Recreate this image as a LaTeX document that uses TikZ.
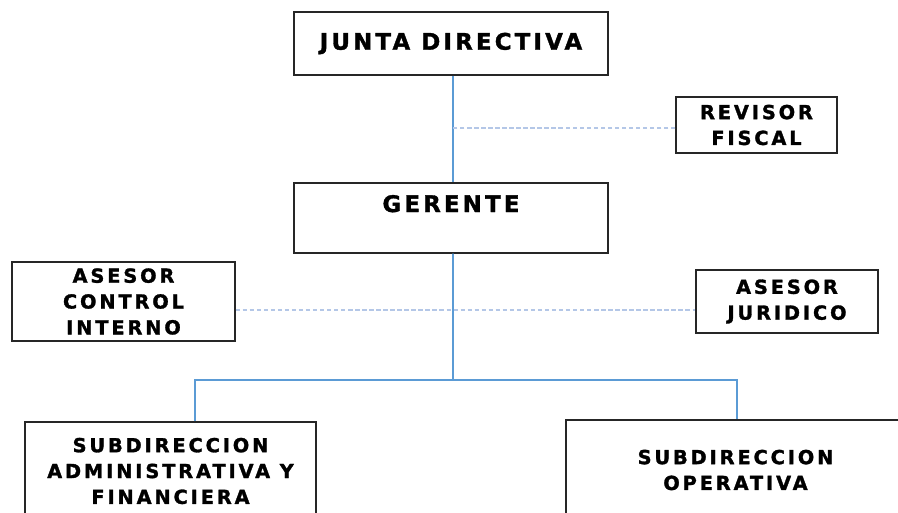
\documentclass[tikz,border=0pt]{standalone}
\usepackage{fontspec}
\setmainfont{DejaVu Sans}
\usetikzlibrary{positioning}
\definecolor{linea}{RGB}{91,155,213}
\definecolor{punteada}{RGB}{180,199,231}

\begin{document}
\begin{tikzpicture}[x=0.02cm, y=-0.02cm,
    cargo/.style={rectangle, draw=black!85, line width=0.8pt, fill=white,
                  align=center, inner sep=0pt,
                  font=\fontsize{11}{14.7}\selectfont\bfseries\addfontfeatures{LetterSpace=15,FakeBold=1.5}},
    directivo/.style={cargo,
                  font=\fontsize{13}{16}\selectfont\bfseries\addfontfeatures{LetterSpace=14,FakeBold=1.5}},
    enlace/.style={draw=linea, line width=0.9pt},
    asesoria/.style={draw=punteada, line width=0.9pt, dash pattern=on 2.5pt off 1.5pt}
]
    \clip (0,0) rectangle (898,512);
    \fill[white] (0,0) rectangle (898,512);

    % Direccion
    \node[directivo, minimum width=6.28cm, minimum height=1.26cm] (junta) at (451,43.5) {JUNTA DIRECTIVA};
    \node[directivo, minimum width=6.28cm, minimum height=1.4cm,
          text height=0.3cm, text depth=0.54cm] (gerente) at (451,218) {GERENTE};

    % Asesores
    \node[cargo, minimum width=3.22cm, minimum height=1.12cm] (revisor) at (756.5,125) {REVISOR\\FISCAL};
    \node[cargo, minimum width=4.46cm, minimum height=1.58cm] (control) at (123.5,301.5) {ASESOR\\CONTROL\\INTERNO};
    \node[cargo, minimum width=3.64cm, minimum height=1.26cm] (juridico) at (787,301.5) {ASESOR\\JURIDICO};

    % Subdirecciones
    \node[cargo, minimum width=5.82cm, minimum height=1.96cm] (subadm) at (170.5,471) {SUBDIRECCION\\ADMINISTRATIVA Y\\FINANCIERA};
    \node[cargo, minimum width=6.78cm, minimum height=2cm] (subop) at (735.5,470) {SUBDIRECCION\\OPERATIVA};

    % Lineas
    \coordinate (rama) at (453,380);
    \draw[enlace] ([xshift=0.04cm]junta.south) -- ([xshift=0.04cm]gerente.north);
    \draw[enlace] ([xshift=0.04cm]gerente.south) -- (rama);
    \draw[enlace] ([xshift=0.49cm]subadm.north) |- (rama) -| ([xshift=0.03cm]subop.north);
    \draw[asesoria] ([yshift=-0.06cm]revisor.west) -- ([yshift=-0.06cm]revisor.west -| rama);
    \draw[asesoria] ([yshift=-0.17cm]control.east) -- ([yshift=-0.17cm]control.east -| juridico.west);
\end{tikzpicture}
\end{document}
